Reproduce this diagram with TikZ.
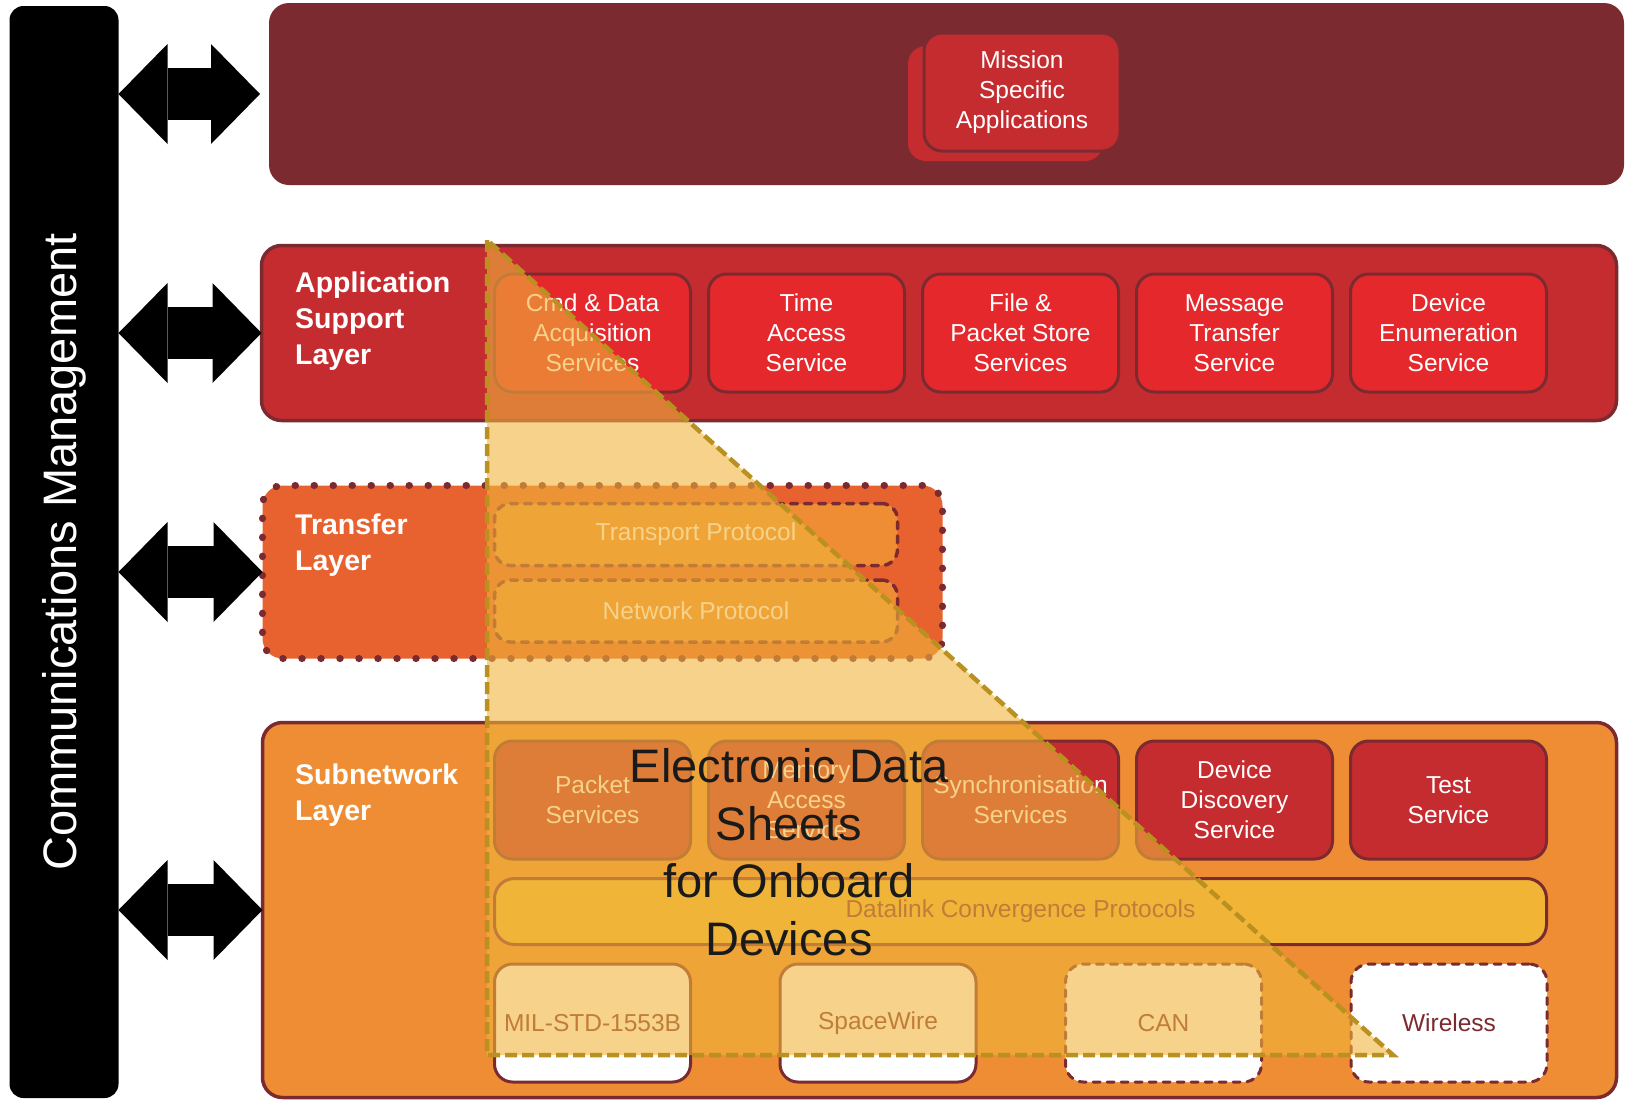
\documentclass[tikz,border=0pt]{standalone}
\usepackage{fontspec}
\setmainfont{Liberation Sans}
\usetikzlibrary{positioning,arrows.meta}

\definecolor{darkmaroon}{RGB}{123,43,48}
\definecolor{layerred}{RGB}{197,44,48}
\definecolor{servred}{RGB}{229,40,44}
\definecolor{xferorange}{RGB}{232,98,47}
\definecolor{subnetorange}{RGB}{238,141,52}
\definecolor{datalinkyellow}{RGB}{241,180,52}
\definecolor{edsfill}{RGB}{240,180,60}
\definecolor{edsline}{RGB}{186,144,32}
\definecolor{edstext}{RGB}{26,26,26}

\begin{document}
\begin{tikzpicture}[x=1pt, y=-1pt,
    layer/.style={rectangle, rounded corners=20pt, inner sep=0pt, outer sep=0pt},
    layerlabel/.style={anchor=west, inner sep=0pt, align=left, text=white, font=\fontsize{28.5}{36}\selectfont\bfseries},
    servbox/.style={rectangle, draw=darkmaroon, line width=3pt, rounded corners=18pt, minimum width=196pt, minimum height=118pt,
                    inner sep=0pt, outer sep=0pt, text=white, align=center, font=\fontsize{24.5}{30}\selectfont},
    busbox/.style={servbox, fill=white, text=darkmaroon},
    dashline/.style={dash pattern=on 7pt off 7pt, line cap=round},
    protobox/.style={servbox, fill=subnetorange, dashline, line width=3.5pt, rounded corners=16pt, minimum width=403pt, minimum height=62pt},
    dblarrow/.style={line width=52pt, {Triangle[length=49pt, width=100pt, line width=0pt]}-{Triangle[length=49pt, width=100pt, line width=0pt]}}]

    \useasboundingbox (0,0) rectangle (1626,1101);

    % Communications management bar
    \node [rectangle, rotate=90, fill=black, rounded corners=14pt, minimum width=1092pt, minimum height=109pt, inner sep=0pt, outer sep=0pt,
           text=white, font=\fontsize{47}{56}\selectfont] (mgmt) at (64,552) {Communications Management};

    % Mission layer
    \node [layer, fill=darkmaroon, minimum width=1355pt, minimum height=182pt] (mission) at (946.5,94) {};
    \node [servbox, fill=layerred, draw=none, minimum width=195pt, minimum height=115pt] (msaback) at (1005.5,103.5) {};
    \node [servbox, fill=layerred] (msa) at (1022,92) {Mission\\Specific\\Applications};

    % Application support layer
    \node [layer, fill=layerred, draw=darkmaroon, line width=3.5pt, minimum width=1355pt, minimum height=175pt] (asl) at (939,333) {};
    \node [layerlabel] (asllabel) at (295,321) {Application\\Support\\Layer};
    \node [servbox, fill=servred] (cmd) at (592.5,333) {Cmd \& Data\\Acquisition\\Services};
    \node [servbox, fill=servred, right=18pt of cmd] (time) {Time\\Access\\Service};
    \node [servbox, fill=servred, right=18pt of time] (file) {File \&\\Packet Store\\Services};
    \node [servbox, fill=servred, right=18pt of file] (message) {Message\\Transfer\\Service};
    \node [servbox, fill=servred, right=18pt of message] (enum) {Device\\Enumeration\\Service};

    % Transfer layer
    \node [layer, fill=xferorange, draw=darkmaroon, line width=7pt, dash pattern=on 0.5pt off 18.5pt, line cap=round,
           minimum width=680pt, minimum height=173pt] (xfer) at (602.5,572) {};
    \node [layerlabel] (xferlabel) at (295,545) {Transfer\\Layer};
    \node [protobox] (transport) at (696,534.5) {Transport Protocol};
    \node [protobox] (network) at (696,611) {Network Protocol};

    % Subnetwork layer
    \node [layer, fill=subnetorange, draw=darkmaroon, line width=3.5pt, minimum width=1354pt, minimum height=375pt] (subnet) at (939.5,910) {};
    \node [layerlabel] (subnetlabel) at (295,795) {Subnetwork\\Layer};
    \node [servbox, fill=layerred] (packet) at (592.5,800) {Packet\\Services};
    \node [servbox, fill=layerred, right=18pt of packet] (memory) {Memory\\Access\\Service};
    \node [servbox, fill=layerred, right=18pt of memory] (sync) {Synchronisation\\Services};
    \node [servbox, fill=layerred, right=18pt of sync] (discovery) {Device\\Discovery\\Service};
    \node [servbox, fill=layerred, right=18pt of discovery] (test) {Test\\Service};
    \node [servbox, fill=datalinkyellow, text=darkmaroon, rounded corners=20pt, minimum width=1052pt, minimum height=66pt] (datalink) at (1020.5,911.5) {\raisebox{-3pt}{Datalink Convergence Protocols}};
    \node [busbox] (mil) at (592.5,1023) {MIL-STD-1553B};
    \node [busbox, right=89.5pt of mil] (spacewire) {\raisebox{-2pt}{SpaceWire}};
    \node [busbox, dashline, right=89.5pt of spacewire] (can) {CAN};
    \node [busbox, dashline, right=89.5pt of can] (wireless) {Wireless};

    % Arrows between management and the layers
    \draw [dblarrow, shorten >=9pt] (mgmt.south |- mission.west) -- (mission.west);
    \draw [dblarrow] (mgmt.south |- asl.west) -- (asl.west);
    \draw [dblarrow] (mgmt.south |- xfer.west) -- (xfer.west);
    \draw [dblarrow] (mgmt.south |- subnet.west) -- (subnet.west);

    % Electronic data sheets overlay
    \coordinate (edstop) at (487,240);
    \coordinate (edsleft) at (487,1055);
    \coordinate (edsright) at (1393,1055);
    \fill [edsfill, fill opacity=0.6] (edstop) -- (edsleft) -- (edsright) -- cycle;
    \draw [edsline, line width=4.5pt, dash pattern=on 12pt off 5pt] (edstop) -- (edsleft) -- (edsright) -- cycle;
    \node [align=center, text=edstext, inner sep=0pt, font=\fontsize{47}{57.5}\selectfont] (eds) at (789,852) {Electronic Data\\Sheets\\for Onboard\\Devices};
\end{tikzpicture}
\end{document}
